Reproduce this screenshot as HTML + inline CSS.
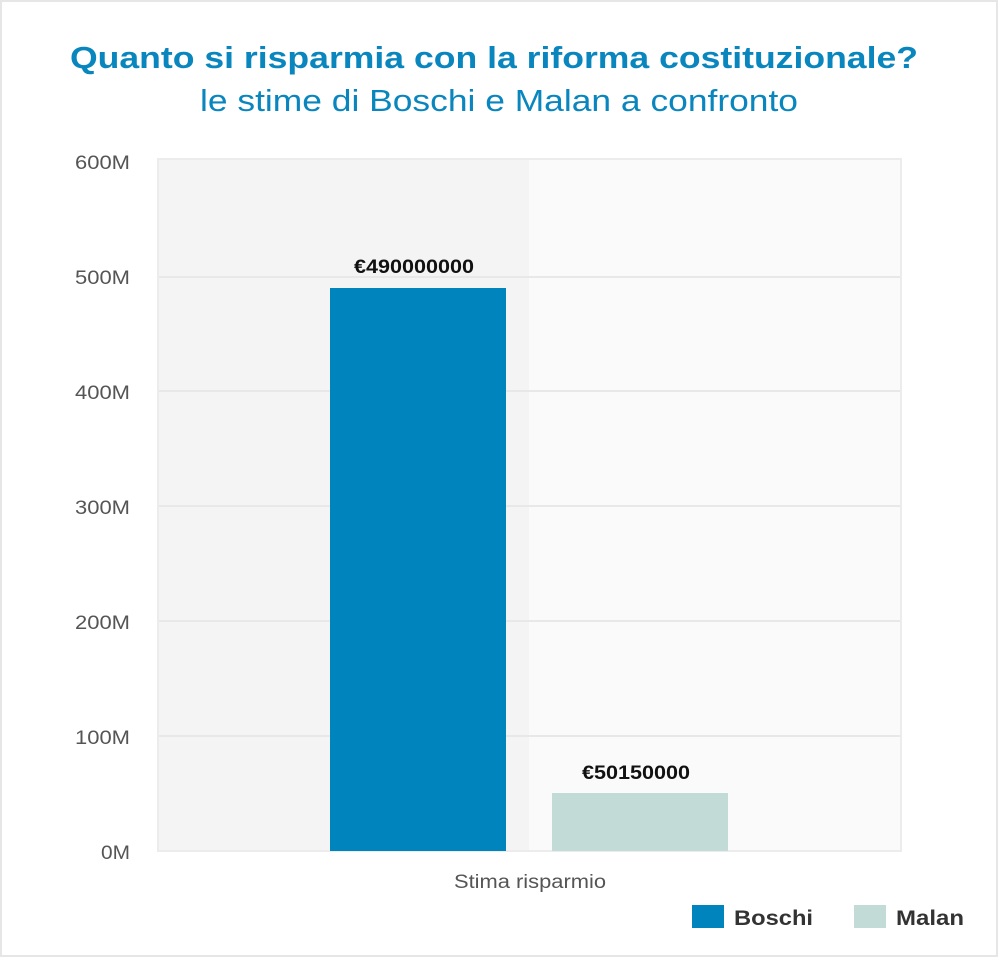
<!DOCTYPE html>
<html><head><meta charset="utf-8"><style>
body{margin:0;background:#fff;}
svg{display:block;font-family:"Liberation Sans",Arial,sans-serif;}
</style></head><body>
<svg width="1000" height="958" viewBox="0 0 1000 958">
<rect x="0" y="0" width="1000" height="958" fill="#fff"/>
<rect x="1" y="1" width="996" height="955" fill="none" stroke="#e6e6e6" stroke-width="2"/>
<text x="70" y="68" font-size="31" font-weight="bold" fill="#0a86bf" textLength="848" lengthAdjust="spacingAndGlyphs">Quanto si risparmia con la riforma costituzionale?</text>
<text x="200" y="111" font-size="31" fill="#0a86bf" textLength="598" lengthAdjust="spacingAndGlyphs">le stime di Boschi e Malan a confronto</text>
<rect x="158" y="159" width="743" height="692" fill="#fafafa" stroke="#ececec" stroke-width="2"/>
<rect x="159" y="160" width="370" height="690" fill="#f4f4f4"/>
<g stroke="#e8e8e8" stroke-width="2">
<line x1="159" x2="900" y1="277" y2="277"/>
<line x1="159" x2="900" y1="391" y2="391"/>
<line x1="159" x2="900" y1="506" y2="506"/>
<line x1="159" x2="900" y1="621" y2="621"/>
<line x1="159" x2="900" y1="736" y2="736"/>
</g>
<g font-size="19" fill="#555">
<text x="75" y="169" textLength="55" lengthAdjust="spacingAndGlyphs">600M</text>
<text x="75" y="284" textLength="55" lengthAdjust="spacingAndGlyphs">500M</text>
<text x="75" y="399" textLength="55" lengthAdjust="spacingAndGlyphs">400M</text>
<text x="75" y="514" textLength="55" lengthAdjust="spacingAndGlyphs">300M</text>
<text x="75" y="629" textLength="55" lengthAdjust="spacingAndGlyphs">200M</text>
<text x="75" y="744" textLength="55" lengthAdjust="spacingAndGlyphs">100M</text>
<text x="101" y="859" textLength="29" lengthAdjust="spacingAndGlyphs">0M</text>
</g>
<rect x="330" y="288" width="176" height="563" fill="#0084bd"/>
<rect x="552" y="793" width="176" height="58" fill="#c3dbd7"/>
<text x="354" y="273" font-size="19" font-weight="bold" fill="#111" textLength="120" lengthAdjust="spacingAndGlyphs">€490000000</text>
<text x="582" y="779" font-size="19" font-weight="bold" fill="#111" textLength="108" lengthAdjust="spacingAndGlyphs">€50150000</text>
<text x="454" y="888" font-size="19" fill="#555" textLength="152" lengthAdjust="spacingAndGlyphs">Stima risparmio</text>
<rect x="692" y="905" width="32" height="23" fill="#0084bd"/>
<text x="734" y="925" font-size="21" font-weight="bold" fill="#333" textLength="79" lengthAdjust="spacingAndGlyphs">Boschi</text>
<rect x="854" y="905" width="32" height="23" fill="#c3dbd7"/>
<text x="896" y="925" font-size="21" font-weight="bold" fill="#333" textLength="68" lengthAdjust="spacingAndGlyphs">Malan</text>
</svg>
</body></html>
